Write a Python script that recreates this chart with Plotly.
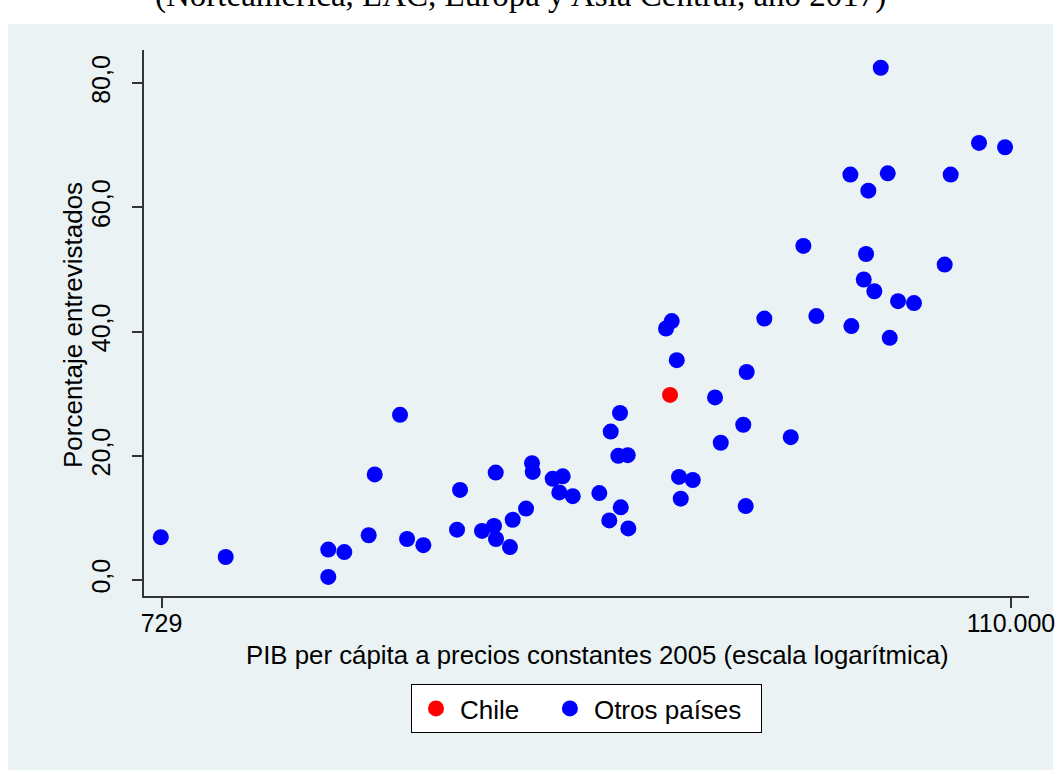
import plotly.graph_objects as go

# GDP per capita (constant 2005 prices) and share of respondents, by country
otros_pib = [726, 1065, 1952, 1952, 2146, 2478, 2568, 2982, 3108, 3422,
             4175, 4250, 4838, 5194, 5247, 5256, 5707, 5800, 6276, 6501,
             6528, 7345, 7638, 7793, 8268, 9674, 10261, 10347, 10822, 10932,
             10977, 11441, 11481, 14344, 14835, 15282, 15488, 15646, 16798, 19159,
             19816, 22634, 23093, 22960, 25634, 29960, 32278, 34844, 42608, 42855,
             46105, 46735, 47375, 49082, 50970, 53124, 53755, 56457, 62036, 74350,
             77032, 91070, 106200]
otros_pct = [6.9, 3.7, 4.9, 0.5, 4.5, 7.2, 17.0, 26.6, 6.6, 5.6,
             8.1, 14.5, 7.9, 8.7, 17.3, 6.6, 5.3, 9.7, 11.5, 18.8,
             17.4, 16.3, 14.1, 16.7, 13.5, 14.0, 9.6, 23.9, 20.0, 26.9,
             11.7, 20.1, 8.3, 40.5, 41.7, 35.4, 16.6, 13.1, 16.1, 29.4,
             22.1, 25.0, 33.5, 11.9, 42.1, 23.0, 53.8, 42.5, 65.3, 40.9,
             48.4, 52.5, 62.7, 46.5, 82.5, 65.5, 39.0, 44.9, 44.6, 50.8,
             65.3, 70.4, 69.7]

chile_pib = [14689]
chile_pct = [29.8]

y_ticks = [0, 20, 40, 60, 80]
y_tick_labels = ["0,0", "20,0", "40,0", "60,0", "80,0"]
x_ticks = [729, 110000]
x_tick_labels = ["729", "110.000"]

titulo = "(Norteamérica, LAC, Europa y Asia Central, año 2017)"
titulo_x = "PIB per cápita a precios constantes 2005 (escala logarítmica)"
titulo_y = "Porcentaje entrevistados"
NBSP = "\u00a0"

FONT = "Arial, 'Liberation Sans', sans-serif"
PANEL = "#EAF2F3"
AXIS = "#333333"

fig = go.Figure()
# non-breaking spaces widen the legend entries
fig.add_trace(go.Scatter(
    x=chile_pib, y=chile_pct, mode="markers", name="Chile" + NBSP * 3,
    marker=dict(color="#FF0000", size=16, line=dict(width=0)),
))
fig.add_trace(go.Scatter(
    x=otros_pib, y=otros_pct, mode="markers", name="Otros países" + NBSP * 2,
    marker=dict(color="#0000FF", size=16, line=dict(width=0)),
))

# light graph-region panel behind the white plot area
fig.add_shape(type="rect", xref="paper", yref="paper",
              x0=-0.1537, x1=1.0271, y0=-0.3187, y1=1.0476,
              fillcolor=PANEL, line=dict(width=0), layer="below")

# heading line above the graph region
fig.add_annotation(text=titulo, xref="paper", yref="paper",
                   x=0.4249, y=1.099, xanchor="center", yanchor="middle",
                   showarrow=False,
                   font=dict(family="'Times New Roman', 'Liberation Serif', serif",
                             size=33, color="#000000"))

# x-axis title, placed under the tick labels
fig.add_annotation(text=titulo_x, xref="paper", yref="paper",
                   x=0.5119, y=-0.1081, xanchor="center", yanchor="middle",
                   showarrow=False,
                   font=dict(family=FONT, size=25.8, color="#000000"))

# y-axis title, rotated, left of the tick labels
fig.add_annotation(text=titulo_y, xref="paper", yref="paper",
                   x=-0.0802, y=0.4963, xanchor="center", yanchor="middle",
                   textangle=-90, showarrow=False,
                   font=dict(family=FONT, size=26, color="#000000"))

fig.update_layout(
    width=1062, height=774,
    template="none",
    margin=dict(l=144, r=33, t=50, b=178),
    paper_bgcolor="#FFFFFF",
    plot_bgcolor="#FFFFFF",
    font=dict(family=FONT, size=25, color="#000000"),
    showlegend=True,
    legend=dict(
        orientation="h", xref="paper", x=0.5, xanchor="center",
        yref="container", y=0.1163, yanchor="top",
        bgcolor="#FFFFFF", bordercolor="#000000", borderwidth=1,
        itemwidth=38,
        font=dict(family=FONT, size=26, color="#000000"),
        traceorder="normal",
    ),
)

fig.update_xaxes(
    type="log", range=[2.81785, 5.08756],
    tickvals=x_ticks, ticktext=x_tick_labels,
    ticks="outside", ticklen=10, tickwidth=1.5, tickcolor=AXIS,
    showline=True, linecolor=AXIS, linewidth=1.5, mirror=False,
    showgrid=False, zeroline=False,
    ticklabelstandoff=-6,
    tickfont=dict(family=FONT, size=25),
)
fig.update_yaxes(
    range=[-2.58, 85.36],
    tickvals=y_ticks, ticktext=y_tick_labels, tickangle=-90,
    ticks="outside", ticklen=10, tickwidth=1.5, tickcolor=AXIS,
    showline=True, linecolor=AXIS, linewidth=1.5, mirror=False,
    showgrid=True, gridcolor=PANEL, gridwidth=2, zeroline=False,
    ticklabelstandoff=12,
    tickfont=dict(family=FONT, size=25),
)

fig.write_html("out.html")
